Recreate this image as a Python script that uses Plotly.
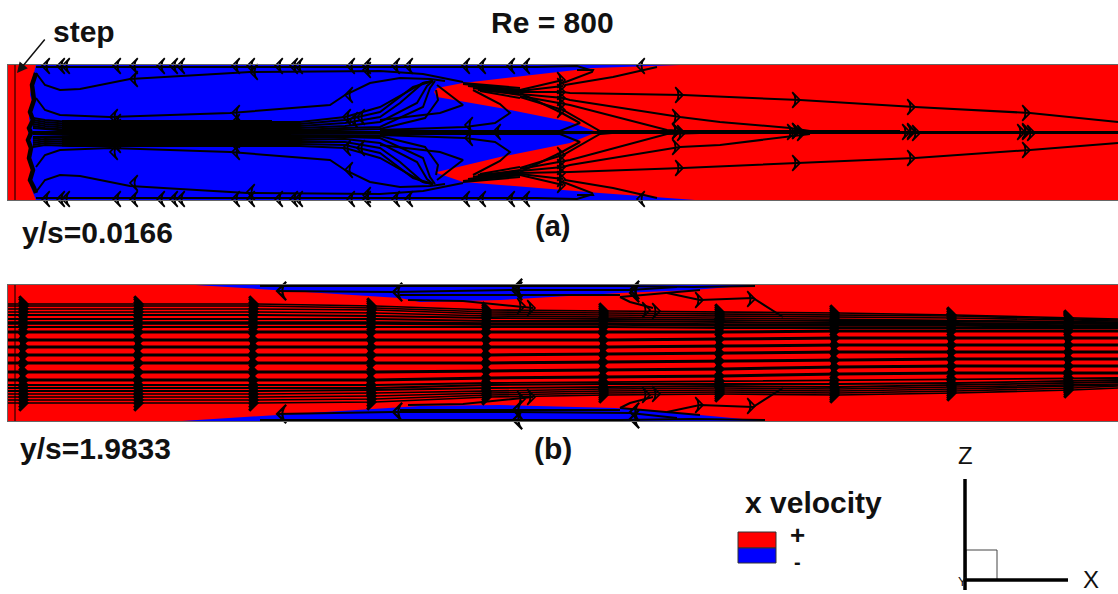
import plotly.graph_objects as go

W, H = 1118, 594
RED, BLUE = "#ff0000", "#0000ff"

# ---------- panel (a): y/s = 0.0166 ----------
A_BLUE_X = [36,32,30,33,29,31,28,31,29,33,30,36,695,600,463,437,434,437,500,570,597,570,500,437,434,437,463,593,680,36]
A_BLUE_Y = [65,80,95,105,118,128,133,140,150,165,185,200,200,193,182,173,168,172,157,143,132,122,108,97,92,88,83,68,65,65]

A_STREAMS = [
    ([36,45,60,80,130,250,380,423,463],[73,85,90,89,79,72,71,74,82]),
    ([36,45,60,80,130,247,380,423,463],[192,180,175,176,186,193,194,191,183]),
    ([36,45,60,110,230,330,345,370,400,430,445],[98,110,115,117,113,105,95,83,78,79,81]),
    ([36,45,60,110,230,330,345,370,400,430,445],[167,155,150,148,152,160,170,182,187,186,184]),
    ([36,400,537,577,590],[67,67,67,66,70]),
    ([36,400,537,577,590],[198,198,198,199,195]),
    ([33,45,70,300,345,380,423,433],[118,120,122,122,117,107,83,81]),
    ([33,45,70,300,345,380,413,433],[120,122,124,124,120,112,87,81]),
    ([33,45,70,300,345,380,400,423,433],[122,124,126,126,123,117,103,83,81]),
    ([33,45,70,300,345,380,417,427,433],[124,126,128,128,126,122,103,86,81]),
    ([33,45,70,300,345,380,423,430,435],[126,128,130,130,128,127,107,88,81]),
    ([33,70,300,380,425,438,436],[128,131,131,129,118,100,90]),
    ([33,45,70,300,345,380,423,433],[147,145,146,146,148,158,182,184]),
    ([33,45,70,300,345,380,413,433],[145,143,144,144,145,153,178,184]),
    ([33,45,70,300,345,380,400,423,433],[143,141,142,142,142,148,162,182,184]),
    ([33,45,70,300,345,380,417,427,433],[141,139,140,140,139,143,162,179,184]),
    ([33,45,70,300,345,380,423,430,435],[139,137,138,138,137,138,158,177,184]),
    ([33,70,300,380,425,438,436],[137,136,136,136,147,165,175]),
    ([33,280,600],[132,132,132]),
    ([33,280,600],[134,134,133]),
    ([437,463,440,380],[85,105,113,120]),
    ([437,463,440,380],[180,160,152,145]),
    ([473,500,510,495,465,380],[90,104,113,123,127,130]),
    ([473,500,510,495,465,380],[175,161,152,142,138,135]),
    ([520,560,580,560,500,380],[93,112,123,131,131,131]),
    ([520,560,580,560,500,380],[172,153,142,134,134,134]),
    ([463,520],[83,88]),([463,520],[84,90]),([468,520],[86,92]),([473,520],[88,95]),([480,520],[91,98]),
    ([463,520],[182,177]),([463,520],[181,175]),([468,520],[179,173]),([473,520],[177,170]),([480,520],[174,167]),
    ([520,563],[90,80]),([520,563],[91,86]),
    ([520,563],[175,185]),([520,563],[174,179]),
    ([565,613,657],[85,77,67]),
    ([565,613,657],[180,188,198]),
    ([563,592,593,577],[83,72,70,70]),
    ([563,592,593,577],[182,193,195,195]),
    ([520,563,570,683,800,915,1030,1118],[92,92,93,95,100,107,113,122]),
    ([520,563,570,683,800,915,1030,1118],[173,172,172,168,163,158,150,143]),
    ([520,563,570,680,720,790,810],[94,98,100,117,122,128,131]),
    ([520,563,570,680,720,790,810],[171,167,165,147,145,136,134]),
    ([520,563,570,667,700],[96,104,105,130,132]),
    ([520,563,570,667,700],[169,161,160,134,133]),
    ([520,563,600,612],[97,110,131,132]),
    ([520,563,600,612],[168,155,134,133]),
    ([597,650,800,1118],[131,132,132,132]),
    ([597,650,800,1118],[133,133,133,133]),
    ([650,1118],[132,132]),
]
A_WEDGES = [
    ([478,520],[88,92]),
    ([478,520],[177,173]),
]
A_THICK_X = [36,32,34,30,33,29,31,28,31,29,33,30,34,36]
A_THICK_Y = [73,85,100,112,120,128,133,140,148,158,170,180,188,193]
A_CUT_X = [15,15]
A_CUT_Y = [65,200]
A_BAND_UP_X = [62,272]
A_BAND_UP_Y = [125.5,125.5]
A_BAND_LO_X = [62,272]
A_BAND_LO_Y = [141,141]
A_CORE_X = [600,900]
A_CORE_Y = [132,132]

A_LEFT_X = [42,57,62,113,130,157,170,177,232,247,275,290,295,347,363,392,405,462,478,507,522,637,
            42,57,62,113,130,157,170,177,232,247,275,290,295,347,363,392,405,462,478,507,522,637,
            130,250,363,110,232,345,130,247,363,110,232,345,
            113,113,232,232,145,265,113,113,232,232,465,465,493,343,350,357,343,357]
A_LEFT_Y = [66,66,66,66,66,66,66,66,66,66,66,66,66,66,66,66,66,66,66,66,66,66,
            199,199,199,199,199,199,199,199,199,199,199,199,199,199,199,199,199,199,199,199,199,199,
            79,72,70,117,113,95,183,192,195,152,152,170,
            127,122,127,122,133,133,140,145,140,145,125,138,132,117,120,117,148,148]
A_RIGHT_X = [683,680,680,680,683,800,915,1030,800,915,1030,800,915,1030,
             565,565,565,565,565,565,565,565,565,565,565,565,
             680,685,795,800,805,910,915,920,1025,1030,1035]
A_RIGHT_Y = [95,117,131,147,168,100,107,113,131,132,132,163,158,150,
             80,86,92,98,104,110,155,161,167,173,179,185,
             131,133,132,131,133,132,131,133,132,131,133]

# ---------- panel (b): y/s = 1.9833 ----------
B_COLS = [8,27,142,257,375,490,607,723,838,955,1072,1118]
B_ROWS = [
    [304,304,304,304,306,310,311,312,313,315,318,319],
    [306,306,306,306,308,312,313,314,315,316,319,320],
    [309,309,309,309,310,314,315,316,317,318,320,321],
    [312,312,312,312,313,316,317,318,319,320,321,322],
    [315,315,315,315,316,318,319,320,321,321,322,323],
    [319,319,319,319,319,321,321,322,323,323,324,324],
    [323,323,323,323,323,324,324,325,325,325,326,326],
    [327,327,327,327,327,327,327,328,328,328,328,328],
    [332,332,332,332,332,332,332,332,331,331,331,331],
    [340,340,340,340,340,340,340,339,338,338,338,338],
    [347,347,347,347,347,347,347,346,345,345,345,345],
    [355,355,355,355,355,355,354,353,352,352,352,352],
    [363,363,363,363,363,363,362,361,360,359,359,359],
    [372,372,372,372,372,371,370,369,367,366,366,366],
    [380,380,380,380,380,378,377,376,374,373,373,373],
    [385,385,385,385,385,383,382,381,380,379,378,378],
    [388,388,388,388,388,385,384,384,384,383,381,380],
    [391,391,391,391,390,388,387,386,387,385,383,382],
    [394,394,394,394,393,391,389,388,389,387,385,384],
    [397,397,397,397,396,393,391,390,391,389,386,385],
    [400,400,400,400,399,395,393,392,393,391,388,386],
    [403,403,403,403,402,397,395,394,395,393,390,388],
]
B_ROW_WEIGHT = [1.6,1.6,1.6,1.6,1.8,1.8,3.4,1.8,3,3,3,3,3,3,3,1.8,1.8,1.8,1.6,1.6,1.6,1.6]
B_TOP_BLUE_X = [195,400,420,500,620,693,755,195]
B_TOP_BLUE_Y = [285,298,302,300,293,290,285,285]
B_BOT_BLUE_X = [182,400,420,500,615,700,765,182]
B_BOT_BLUE_Y = [421,407,406,405,408,415,421,421]
B_STREAMS = [
    ([260,400,620,693,755],[286,286,286,287,286]),
    ([277,393,513,630,677],[291,292,290,290,287]),
    ([400,620],[295,295]),
    ([408,463,533],[300,301,308]),
    ([620,700],[297,290]),
    ([620,630,653],[297,302,308]),
    ([667,700,753,783],[293,300,298,317]),
    ([260,400,620,693,765],[420,420,420,419,420]),
    ([277,393,513,630,677],[414,412,412,413,418]),
    ([400,620],[410,410]),
    ([408,463,533],[405,404,397]),
    ([620,700],[408,415]),
    ([620,630,653],[408,403,397]),
    ([667,700,753,783],[412,405,407,388]),
]
B_LEFT_X = [277,393,513,513,630,630,277,393,513,513,630,630]
B_LEFT_Y = [291,292,288,291,290,293,414,412,410,420,412,419]
B_RIGHT_X = [525,535,650,660,703,755,525,535,650,660,703,755]
B_RIGHT_Y = [306,308,310,311,300,299,399,397,395,394,405,406]

LINE_C = "#000000"
fig = go.Figure()

def stream(x, y, ax, width=2.0):
    fig.add_trace(go.Scatter(x=x, y=y, mode="lines", xaxis=ax[0], yaxis=ax[1],
                             line=dict(color=LINE_C, width=width), hoverinfo="skip", showlegend=False))

def region(x, y, ax, color):
    fig.add_trace(go.Scatter(x=x, y=y, mode="lines", fill="toself", fillcolor=color, xaxis=ax[0], yaxis=ax[1],
                             line=dict(color=color, width=0), hoverinfo="skip", showlegend=False))

def heads(x, y, ax, angle, size=11, w=1.7):
    fig.add_trace(go.Scatter(x=x, y=y, mode="markers", xaxis=ax[0], yaxis=ax[1], cliponaxis=False,
                             marker=dict(symbol="arrow-wide-open", size=size, angle=angle, color=LINE_C,
                                         line=dict(color=LINE_C, width=w)),
                             hoverinfo="skip", showlegend=False))

AX_A, AX_B = ("x", "y"), ("x2", "y2")

# panel a
region(A_BLUE_X, A_BLUE_Y, AX_A, BLUE)
stream(A_CUT_X, A_CUT_Y, AX_A, 1)
for sx, sy in A_STREAMS:
    stream(sx, sy, AX_A)
for sx, sy in A_WEDGES:
    stream(sx, sy, AX_A, 6)
stream(A_THICK_X, A_THICK_Y, AX_A, 4.5)
stream(A_BAND_UP_X, A_BAND_UP_Y, AX_A, 11)
stream(A_BAND_LO_X, A_BAND_LO_Y, AX_A, 11)
stream(A_CORE_X, A_CORE_Y, AX_A, 4)
heads(A_LEFT_X, A_LEFT_Y, AX_A, 270)
heads(A_RIGHT_X, A_RIGHT_Y, AX_A, 90)

# panel b
region(B_TOP_BLUE_X, B_TOP_BLUE_Y, AX_B, BLUE)
region(B_BOT_BLUE_X, B_BOT_BLUE_Y, AX_B, BLUE)
stream(A_CUT_X, [285, 421], AX_B, 1)
for row, weight in zip(B_ROWS, B_ROW_WEIGHT):
    stream(B_COLS, row, AX_B, weight)
for sx, sy in B_STREAMS:
    stream(sx, sy, AX_B)
for i, cx in enumerate(B_COLS):
    if 0 < i < len(B_COLS) - 1:
        heads([cx] * len(B_ROWS), [row[i] for row in B_ROWS], AX_B, 90, 11, 3)
heads(B_LEFT_X, B_LEFT_Y, AX_B, 270, 13, 2.2)
heads(B_RIGHT_X, B_RIGHT_Y, AX_B, 90, 11, 1.7)

def px(x): return x / W
def py(y): return 1 - y / H

def axis(lo, hi, d0, d1, **kw):
    return dict(range=[lo, hi], domain=[d0, d1], showgrid=False, zeroline=False, showticklabels=False,
                ticks="", showline=True, mirror=True, linecolor="#666666", linewidth=1, **kw)

layout = dict(
    width=W, height=H, margin=dict(l=0, r=0, t=0, b=0), paper_bgcolor="white", plot_bgcolor=RED, showlegend=False,
    xaxis=axis(8, 1118, px(8), 1, anchor="y"),
    yaxis=axis(200, 65, py(200), py(65), anchor="x"),
    xaxis2=axis(8, 1118, px(8), 1, anchor="y2"),
    yaxis2=axis(421, 285, py(421), py(285), anchor="x2"),
)
fig.update_layout(**layout)

LABELS = [
    ("Re = 800", 489, 23, "left", True, 30),
    ("step", 51, 31, "left", True, 30),
    ("(a)", 552, 226, "center", True, 29),
    ("y/s=0.0166", 20, 232, "left", True, 30),
    ("(b)", 553, 448, "center", True, 30),
    ("y/s=1.9833", 18, 448, "left", True, 30),
    ("x velocity", 743, 502, "left", True, 30),
    ("+", 797, 535, "center", True, 26),
    ("-", 797, 561.5, "center", True, 20),
    ("Z", 965, 456, "center", False, 24),
    ("X", 1091, 579.5, "center", False, 24),
    ("Y", 962, 581, "center", False, 13),
]
for text, x, y, anchor, bold, size in LABELS:
    fig.add_annotation(x=px(x), y=py(y), xref="paper", yref="paper", text=f"<b>{text}</b>" if bold else text,
                       showarrow=False, xanchor=anchor, yanchor="middle",
                       font=dict(family="Liberation Sans", size=size, color="#111111"))

fig.add_annotation(x=px(17), y=py(73), ax=29, ay=-35, xref="paper", yref="paper",
                   text="", showarrow=True, arrowhead=2, arrowsize=1.4, arrowwidth=1.5, arrowcolor="#111111")

def rect(x0, y0, x1, y1, fill=None, line="#333333", w=1):
    fig.add_shape(type="rect", xref="paper", yref="paper", x0=px(x0), x1=px(x1), y0=py(y0), y1=py(y1),
                  fillcolor=fill if fill else "rgba(0,0,0,0)", line=dict(color=line, width=w))

def seg(x0, y0, x1, y1, w):
    fig.add_shape(type="line", xref="paper", yref="paper", x0=px(x0), x1=px(x1), y0=py(y0), y1=py(y1),
                  line=dict(color="#000000", width=w))

rect(738, 532, 776, 548, RED)
rect(738, 548, 776, 563, BLUE)
rect(966, 550, 997, 580, None, "#444444", 1)
seg(965, 479, 965, 590, 3.5)
seg(965, 580, 1068, 580, 3.5)

fig.write_html("out.html", config={"displayModeBar": False},
               post_script="document.body.style.margin='0';document.documentElement.style.overflow='hidden';")
